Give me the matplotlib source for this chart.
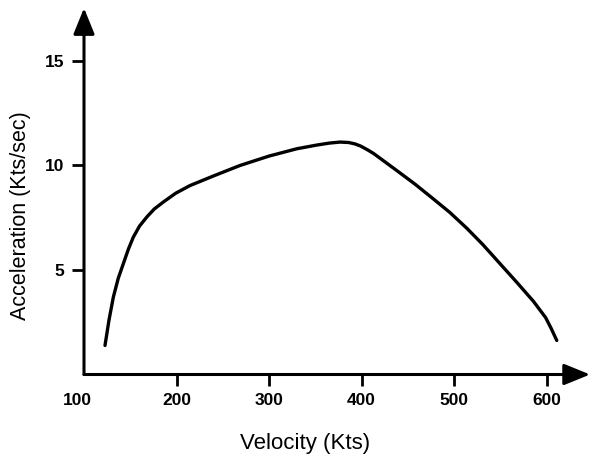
import matplotlib
matplotlib.use("Agg")
import matplotlib.pyplot as plt
from matplotlib.transforms import ScaledTranslation

# Data
velocity = [122.7, 127.0, 131.7, 137.0, 142.5, 148.0, 153.3, 160.0, 167.8, 176.0,
            185.7, 199.0, 214.6, 240.0, 268.6, 300.0, 330.0, 352.0, 365.0, 376.8,
            386.0, 393.0, 399.0, 406.0, 412.8, 438.0, 458.0, 477.6, 495.5, 513.7,
            531.0, 549.7, 568.0, 585.8, 599.0, 605.0, 611.0]
acceleration = [1.39, 2.6, 3.7, 4.6, 5.3, 6.0, 6.57, 7.1, 7.53, 7.92,
                8.25, 8.67, 9.04, 9.5, 10.0, 10.45, 10.8, 10.98, 11.07, 11.12,
                11.1, 11.03, 10.93, 10.76, 10.58, 9.76, 9.1, 8.4, 7.75, 7.0,
                6.22, 5.3, 4.4, 3.5, 2.72, 2.2, 1.63]
x_ticks = [100, 200, 300, 400, 500, 600]
y_ticks = [5, 10, 15]
x_label = "Velocity (Kts)"
y_label = "Acceleration (Kts/sec)"

plt.rcParams['font.family'] = ['Liberation Sans', 'DejaVu Sans']

W, H = 591, 457
fig = plt.figure(figsize=(W / 100, H / 100), dpi=100)
ax = fig.add_axes([84 / W, 1 - 374.5 / H, 507 / W, 368.5 / H])

xmin, xmax = 100, 648
ymin, ymax = 0, 17.63
ax.set_xlim(xmin, xmax)
ax.set_ylim(ymin, ymax)

ax.plot(velocity, acceleration, color='black', lw=2.4, solid_capstyle='round',
        solid_joinstyle='round')

for s in ax.spines.values():
    s.set_visible(False)

arrow_kw = dict(arrowstyle='-|>,head_length=1.6,head_width=0.65', lw=2.2,
                color='black', shrinkA=0, shrinkB=0)
ax.annotate('', xy=(647, 0), xytext=(xmin, 0), arrowprops=arrow_kw,
            annotation_clip=False)
ax.annotate('', xy=(xmin, 17.53), xytext=(xmin, 0), arrowprops=arrow_kw,
            annotation_clip=False)

ax.set_xticks(x_ticks)
ax.set_xticklabels([str(t) for t in x_ticks], fontsize=12.5, fontweight='bold')
ax.set_yticks(y_ticks)
ax.set_yticklabels([str(t) for t in y_ticks], fontsize=12.5, fontweight='bold')
ax.tick_params(axis='x', direction='out', length=8, width=2, pad=5)
ax.tick_params(axis='y', direction='out', length=9, width=2, pad=5)
first = ax.xaxis.get_major_ticks()[0]
first.tick1line.set_visible(False)
# "100" label sits slightly left of the origin in the reference
first.label1.set_transform(first.label1.get_transform() +
                           ScaledTranslation(-7 / 100, 0, fig.dpi_scale_trans))

ax.set_xlabel(x_label, fontsize=16, va='center')
ax.xaxis.set_label_coords((305 - 84) / 507, (374.5 - 443) / 368.5)
ax.set_ylabel(y_label, fontsize=15.5, va='center')
ax.yaxis.set_label_coords((21 - 84) / 507, (374.5 - 215.5) / 368.5)

fig.savefig("out.png", dpi=100)
